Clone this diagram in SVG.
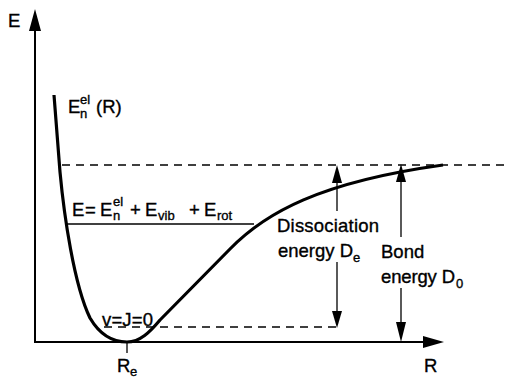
<svg xmlns="http://www.w3.org/2000/svg" width="506" height="379" viewBox="0 0 506 379">
<style>
text{font-family:"Liberation Sans",Arial,sans-serif;fill:#000;stroke:#000;stroke-width:0.35}
.lbl{font-size:18.5px}
.sm{font-size:13px}
.thin{stroke:#000;stroke-width:1.3;fill:none}
.dash{stroke:#000;stroke-width:1.3;fill:none;stroke-dasharray:8 6}
.axis{stroke:#000;stroke-width:2;fill:none}
.curve{stroke:#000;stroke-width:3.2;fill:none;stroke-linejoin:round}
.head{fill:#000;stroke:none}
</style>
<rect width="506" height="379" fill="#fff"/>
<g id="axes">
<line class="axis" x1="35" y1="343" x2="35" y2="28"/>
<polygon class="head" points="35,9 29,31 41,31"/>
<line class="axis" x1="34" y1="342" x2="426" y2="342"/>
<polygon class="head" points="444,342 423,336 423,348"/>
<line class="thin" x1="127" y1="342" x2="127" y2="353"/>
<text class="lbl" x="8" y="27">E</text>
<text class="lbl" x="424" y="372">R</text>
<text class="lbl" x="117" y="372">R<tspan class="sm" x="130" y="376">e</tspan></text>
</g>
<g id="potential">
<path class="curve" d="M54,95 L60,172 C64,215 74,285 90,318 C100,335 112,342 127,342 C140,342 150,332 160,320 L230,249 C265,213 320,182 443,165"/>
<text class="lbl" x="68" y="113">E</text>
<text class="sm" x="80" y="118">n</text>
<text class="sm" x="80" y="104">el</text>
<text class="lbl" x="96" y="113">(R)</text>
</g>
<g id="levels">
<line class="dash" x1="62" y1="165" x2="506" y2="165"/>
<line class="thin" x1="66" y1="224" x2="254" y2="224"/>
<line class="dash" x1="104" y1="327" x2="337" y2="327"/>
<text class="lbl" x="72" y="216">E<tspan x="85">=</tspan><tspan x="100">E</tspan><tspan x="130">+</tspan><tspan x="145">E</tspan><tspan x="189">+</tspan><tspan x="204">E</tspan></text>
<text class="sm" x="113" y="220">n</text>
<text class="sm" x="113" y="206">el</text>
<text class="sm" x="158" y="220" font-size="14">vib</text>
<text class="sm" x="217" y="220" font-size="14">rot</text>
<text class="lbl" x="102" y="326" textLength="51">v=J=0</text>
</g>
<g id="connectors">
<line class="thin" x1="337" y1="180" x2="337" y2="211"/>
<line class="thin" x1="337" y1="262" x2="337" y2="313"/>
<polygon class="head" points="337,165 332,183 342,183"/>
<polygon class="head" points="337,328 332,311 342,311"/>
<line class="thin" x1="401" y1="180" x2="401" y2="237"/>
<line class="thin" x1="401" y1="288" x2="401" y2="324"/>
<polygon class="head" points="401,164 396,182 406,182"/>
<polygon class="head" points="401,342 396,322 406,322"/>
</g>
<g id="labels">
<text class="lbl" x="277" y="232" textLength="102">Dissociation</text>
<text class="lbl" x="278" y="257" textLength="75">energy D</text>
<text class="sm" x="353" y="262">e</text>
<text class="lbl" x="381" y="258">Bond</text>
<text class="lbl" x="381" y="283" textLength="74">energy D</text>
<text class="sm" x="456" y="288">0</text>
</g>
</svg>
